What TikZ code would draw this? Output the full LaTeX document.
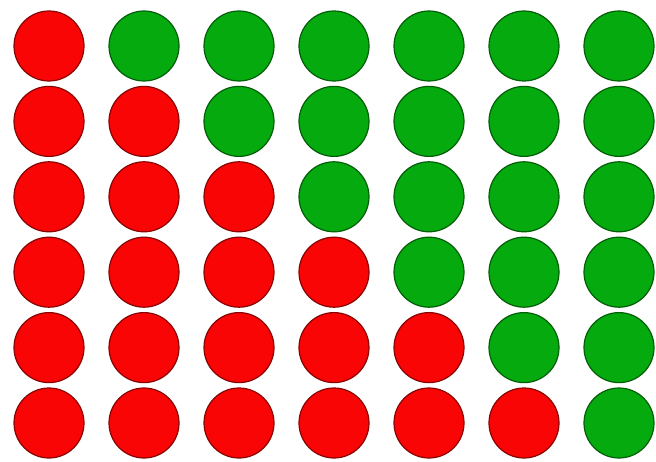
\documentclass[tikz,border=0pt]{standalone}
\usepackage{xcolor}
\usepackage{tikz}
\definecolor{dotred}{RGB}{250, 5, 5}
\definecolor{dotgreen}{RGB}{5, 170, 15}
\tikzset{
    reddot/.style={circle, draw=dotred!55!black, fill=dotred, line width=1.2pt, minimum size=70pt, inner sep=0pt},
    greendot/.style={circle, draw=dotgreen!55!black, fill=dotgreen, line width=1.2pt, minimum size=70pt, inner sep=0pt}
}
\begin{document}
\begin{tikzpicture}[x=1pt, y=-1pt]
        \useasboundingbox (0,0) rectangle (656,462);

        % Grid of dots
        \foreach \col in {0,...,6} {
            \foreach \row in {0,...,5} {
                \ifnum\row<\col
                    \node [greendot] (dot-\col-\row) at ({49+95*\col}, {46+75.4*\row}) {};
                \else
                    \node [reddot] (dot-\col-\row) at ({49+95*\col}, {46+75.4*\row}) {};
                \fi
            }
        }

    \end{tikzpicture}
\end{document}
